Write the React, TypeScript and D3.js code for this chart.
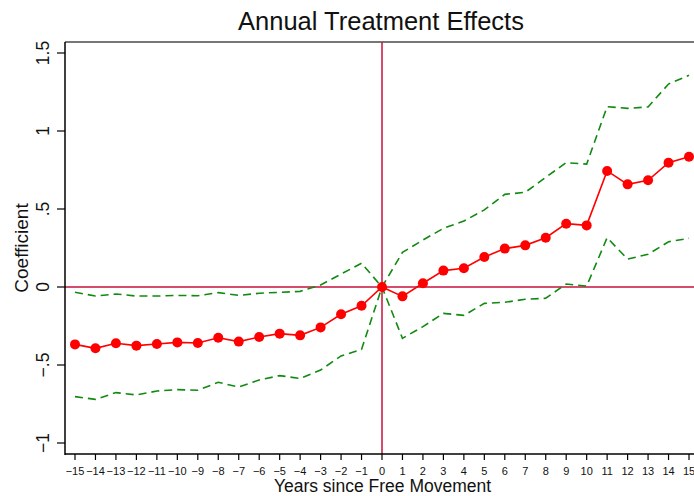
import React from "react";
import * as d3 from "d3";

const years = d3.range(-15, 16);
const coef = [-0.368, -0.393, -0.361, -0.376, -0.365, -0.355, -0.359, -0.325, -0.35, -0.321, -0.299, -0.31, -0.259, -0.175, -0.12, 0,
  -0.06, 0.024, 0.105, 0.12, 0.192, 0.246, 0.267, 0.316, 0.406, 0.395, 0.744, 0.658, 0.684, 0.797, 0.835];
const upper = [-0.034, -0.058, -0.045, -0.058, -0.058, -0.054, -0.056, -0.036, -0.054, -0.04, -0.034, -0.028, 0.013, 0.083, 0.152, 0,
  0.222, 0.301, 0.376, 0.423, 0.494, 0.594, 0.607, 0.703, 0.797, 0.788, 1.156, 1.145, 1.154, 1.301, 1.357];
const lower = [-0.703, -0.72, -0.677, -0.692, -0.667, -0.658, -0.662, -0.611, -0.641, -0.596, -0.568, -0.586, -0.532, -0.442, -0.4, 0,
  -0.329, -0.254, -0.169, -0.182, -0.105, -0.098, -0.079, -0.072, 0.019, 0.006, 0.316, 0.179, 0.21, 0.29, 0.312];
const yTicks = [-1, -0.5, 0, 0.5, 1, 1.5];
const yTickLabels = ["\u22121", "\u2212.5", "0", ".5", "1", "1.5"];

const W = 694, H = 496;
const FONT = "'Liberation Sans', Arial, Helvetica, sans-serif";

export default function App() {
  const x = d3.scaleLinear().domain([-15, 15]).range([75, 689]);
  const y = d3.scaleLinear().domain([0, 1]).range([287, 131]);
  const axisY = 454, axisX = 65, topY = 42;

  const line = (vals: number[]) =>
    d3.line<number>().x((_, i) => x(years[i])).y((v) => y(v))(vals) || "";

  return (
    <svg width={W} height={H} style={{ position: "absolute", left: 0, top: 0, background: "#fff" }}>
      <rect x={0} y={0} width={W} height={H} fill="#fff" />
      <text x={381} y={30} textAnchor="middle" fontFamily={FONT} fontSize={25.5} fill="#111">
        Annual Treatment Effects
      </text>
      {/* top border */}
      <line x1={axisX} x2={W} y1={topY} y2={topY} stroke="#777" strokeWidth={2} />
      {/* reference lines */}
      <line x1={axisX} x2={W} y1={y(0)} y2={y(0)} stroke="#c8103c" strokeWidth={1.5} />
      <line x1={x(0)} x2={x(0)} y1={topY} y2={axisY} stroke="#c8103c" strokeWidth={1.5} />
      {/* CI lines */}
      <path d={line(upper)} fill="none" stroke="#108a10" strokeWidth={1.6} strokeDasharray="8,5" />
      <path d={line(lower)} fill="none" stroke="#108a10" strokeWidth={1.6} strokeDasharray="8,5" />
      {/* main line */}
      <path d={line(coef)} fill="none" stroke="#ff0000" strokeWidth={1.6} />
      {coef.map((v, i) => (
        <circle key={i} cx={x(years[i])} cy={y(v)} r={5} fill="#ff0000" />
      ))}
      {/* y axis */}
      <line x1={axisX} x2={axisX} y1={topY} y2={axisY + 1} stroke="#000" strokeWidth={1.5} />
      {yTicks.map((t, i) => (
        <g key={t}>
          <line x1={axisX - 8} x2={axisX} y1={y(t)} y2={y(t)} stroke="#000" strokeWidth={1.2} />
          <text
            transform={`translate(${49},${y(t)}) rotate(-90)`}
            textAnchor="middle"
            fontFamily={FONT}
            fontSize={17.5}
            fill="#111"
          >
            {yTickLabels[i]}
          </text>
        </g>
      ))}
      <text transform={`translate(28,248) rotate(-90)`} textAnchor="middle" fontFamily={FONT} fontSize={19} fill="#111">
        Coefficient
      </text>
      {/* x axis */}
      <line x1={axisX} x2={W} y1={axisY} y2={axisY} stroke="#000" strokeWidth={1.5} />
      {years.map((t) => (
        <g key={t}>
          <line x1={x(t)} x2={x(t)} y1={axisY} y2={axisY + 6} stroke="#000" strokeWidth={1.2} />
          <text x={x(t)} y={474.5} textAnchor="middle" fontFamily={FONT} fontSize={11} fill="#111">
            {t < 0 ? "\u2212" + Math.abs(t) : String(t)}
          </text>
        </g>
      ))}
      <text x={382.5} y={492} textAnchor="middle" fontFamily={FONT} fontSize={17.5} fill="#111">
        Years since Free Movement
      </text>
    </svg>
  );
}
